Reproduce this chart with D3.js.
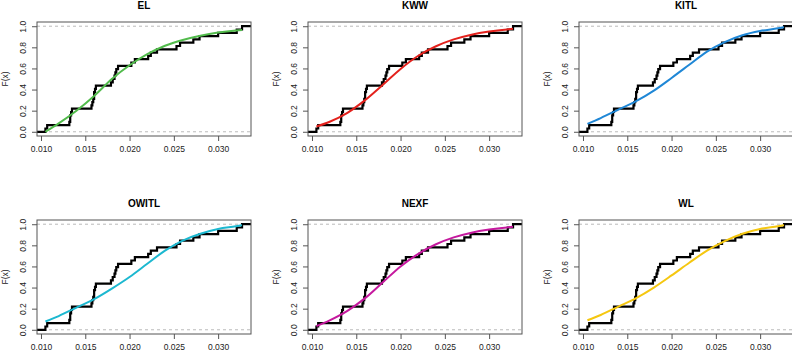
<!DOCTYPE html>
<html>
<head>
<meta charset="utf-8">
<script src="https://cdn.jsdelivr.net/npm/d3@7"></script>
<style>
  body { margin: 0; background: white; }
  text { font-family: "Liberation Sans", Arial, sans-serif; }
</style>
</head>
<body>
<div id="chart"></div>
<script>
const sampleX = [
  0.0105, 0.0107,
  0.0132, 0.0133, 0.0133, 0.0134, 0.0135,
  0.0157, 0.0158, 0.0159, 0.0160, 0.0160, 0.0161, 0.0162,
  0.0179, 0.0181, 0.0183, 0.0184, 0.0185, 0.0187,
  0.0202, 0.0206, 0.0221, 0.0224, 0.0231, 0.0253, 0.0257,
  0.0272, 0.0279, 0.0300, 0.0321, 0.0327
];

const modelNames = ["EL", "KWW", "KITL", "OWITL", "NEXF", "WL"];
const modelColors = ["#52bb4c", "#e3211c", "#1f87d6", "#1cb8d0", "#c5199e", "#f5c710"];

// fitted cdf read at these x positions
const fitX = [0.0105, 0.012, 0.014, 0.016, 0.018, 0.020, 0.022, 0.024, 0.026, 0.028, 0.030, 0.032, 0.0327];
const elFit    = [0.00, 0.08, 0.20, 0.34, 0.50, 0.63, 0.735, 0.815, 0.87, 0.91, 0.94, 0.96, 0.965];
const kwwFit   = [0.05, 0.095, 0.18, 0.30, 0.445, 0.595, 0.72, 0.81, 0.875, 0.92, 0.95, 0.97, 0.975];
const kitlFit  = [0.075, 0.13, 0.21, 0.29, 0.39, 0.51, 0.635, 0.76, 0.85, 0.915, 0.955, 0.98, 0.99];
const owitlFit = [0.078, 0.13, 0.21, 0.29, 0.39, 0.50, 0.625, 0.75, 0.845, 0.91, 0.955, 0.98, 0.99];
const nexfFit  = [0.035, 0.09, 0.18, 0.30, 0.45, 0.60, 0.72, 0.81, 0.875, 0.92, 0.95, 0.97, 0.975];
const wlFit    = [0.09, 0.14, 0.22, 0.30, 0.40, 0.515, 0.635, 0.75, 0.84, 0.91, 0.955, 0.98, 0.99];

const xTicks = [0.010, 0.015, 0.020, 0.025, 0.030];
const yTicks = [0.0, 0.2, 0.4, 0.6, 0.8, 1.0];

const fits = [elFit, kwwFit, kitlFit, owitlFit, nexfFit, wlFit];

const config = {
  width: 792,
  height: 351,
  boxLeft: 37,
  boxTop: 22,
  boxW: 214,
  boxH: 114,
  colStep: 271,
  rowStep: 198,
  frame: "#555555"
};

const svg = d3.select("#chart").append("svg")
  .attr("width", config.width)
  .attr("height", config.height);

const x = d3.scaleLinear().domain([0.00955, 0.03371]).range([0, config.boxW]);
const y = d3.scaleLinear().domain([-0.04, 1.04]).range([config.boxH, 0]);

const n = sampleX.length;
const ecdfPts = [[x.domain()[0], 0]].concat(sampleX.map((v, i) => [v, (i + 1) / n]));
ecdfPts.push([x.domain()[1], 1]);

const stepLine = d3.line().x(d => x(d[0])).y(d => y(d[1])).curve(d3.curveStepAfter);
const fitLine = d3.line().x(d => x(d[0])).y(d => y(d[1])).curve(d3.curveMonotoneX);

modelNames.forEach((name, k) => {
  const col = k % 3, row = Math.floor(k / 3);
  const g = svg.append("g")
    .attr("transform", `translate(${config.boxLeft + col * config.colStep},${config.boxTop + row * config.rowStep})`);

  g.append("text")
    .attr("x", config.boxW / 2).attr("y", -13)
    .attr("text-anchor", "middle")
    .attr("font-size", 10).attr("font-weight", "bold")
    .text(name);

  g.append("text")
    .attr("transform", `translate(-29,${config.boxH / 2}) rotate(-90)`)
    .attr("text-anchor", "middle")
    .attr("font-size", 8.5)
    .attr("fill", "#222")
    .text("F(x)");

  // dashed reference lines at 0 and 1
  g.selectAll(".ref").data([0, 1]).enter().append("line")
    .attr("x1", 0).attr("x2", config.boxW)
    .attr("y1", d => y(d)).attr("y2", d => y(d))
    .attr("stroke", "#aaaaaa").attr("stroke-width", 0.8)
    .attr("stroke-dasharray", "3,3");

  const xAxis = g.append("g")
    .attr("transform", `translate(0,${config.boxH})`)
    .call(d3.axisBottom(x).tickValues(xTicks).tickFormat(d3.format(".3f")).tickSize(5).tickPadding(5));
  const yAxis = g.append("g")
    .call(d3.axisLeft(y).tickValues(yTicks).tickFormat(d3.format(".1f")).tickSize(5).tickPadding(3));

  [xAxis, yAxis].forEach(a => {
    a.select(".domain").remove();
    a.selectAll("line").attr("stroke", config.frame);
    a.selectAll("text").attr("font-size", 8.5).attr("fill", "#222").style("font-family", "'Liberation Sans', Arial, sans-serif");
  });
  yAxis.selectAll("text")
    .attr("text-anchor", "middle")
    .attr("x", 0).attr("dy", 0)
    .attr("transform", "translate(-11,0) rotate(-90)");

  g.append("path")
    .attr("d", stepLine(ecdfPts))
    .attr("fill", "none")
    .attr("stroke", "black")
    .attr("stroke-width", 2.2);

  g.append("path")
    .attr("d", fitLine(fitX.map((v, i) => [v, fits[k][i]])))
    .attr("fill", "none")
    .attr("stroke", modelColors[k])
    .attr("stroke-width", 2);

  g.append("rect")
    .attr("width", config.boxW).attr("height", config.boxH)
    .attr("fill", "none")
    .attr("stroke", config.frame)
    .attr("stroke-width", 1);
});
</script>
</body>
</html>
